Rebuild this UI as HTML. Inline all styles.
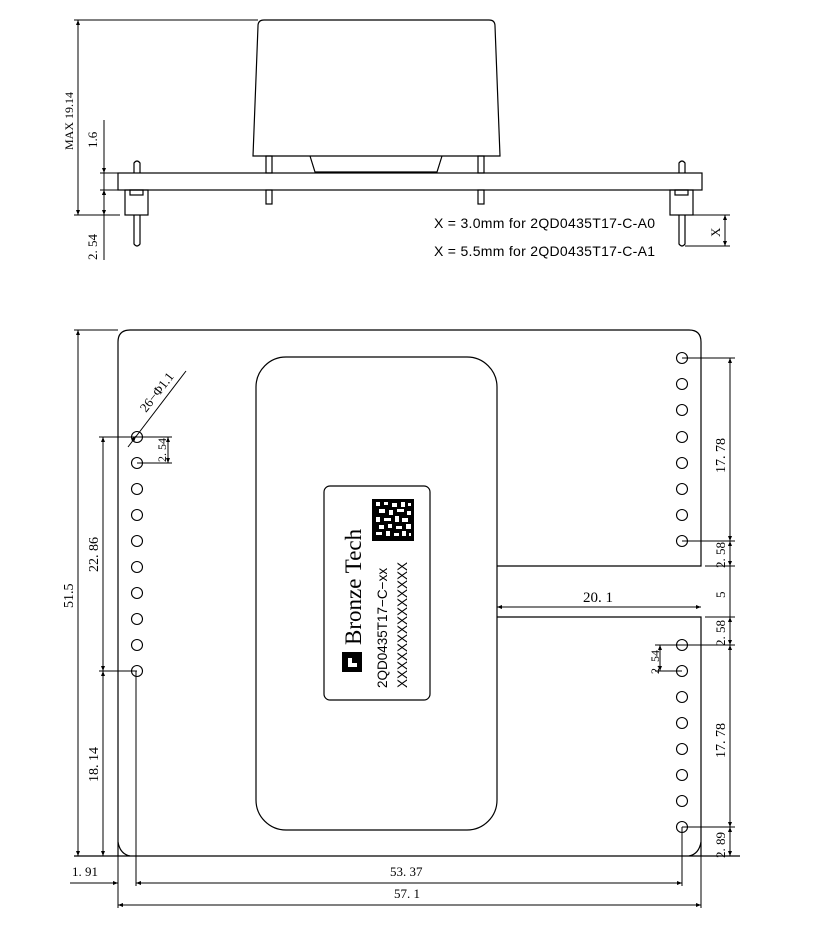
<!DOCTYPE html>
<html><head><meta charset="utf-8"><style>
html,body{margin:0;padding:0;background:#fff;}
svg{display:block;}
text{font-family:"Liberation Serif","Noto Serif CJK SC",serif;fill:#000;}
.s{font-family:"Liberation Sans","Noto Sans CJK SC",sans-serif;}
</style></head><body>
<svg width="813" height="926" viewBox="0 0 813 926" xmlns="http://www.w3.org/2000/svg">
<defs>
<marker id="a" viewBox="0 0 10 10" refX="10" refY="5" markerWidth="7" markerHeight="5" orient="auto-start-reverse" markerUnits="userSpaceOnUse"><path d="M0,1 L10,5 L0,9 z" fill="#000"/></marker>
</defs>
<g stroke="#000" stroke-width="1.2" fill="none">
<path d="M258,26 Q258,20 264,20 L489,20 Q495,20 495,26 L500,156 L253,156 Z"/>
<path d="M310,156 L315,172 L437,172 L442,156"/>
<rect x="118" y="173" width="584" height="17"/>
<rect x="266" y="156" width="6" height="17"/><rect x="266" y="190" width="6" height="14"/>
<rect x="478" y="156" width="6" height="17"/><rect x="478" y="190" width="6" height="14"/>
<path d="M134,173 L134,163 Q137,159 140,163 L140,173"/>
<rect x="125" y="190" width="23" height="25"/><rect x="130" y="190" width="13" height="5"/>
<path d="M134,215 L134,244 Q137,248 140,244 L140,215"/>
<path d="M679,173 L679,163 Q682,159 685,163 L685,173"/>
<rect x="670" y="190" width="23" height="25"/><rect x="675" y="190" width="13" height="5"/>
<path d="M679,215 L679,244 Q682,248 685,244 L685,215"/>
<line x1="74" y1="20" x2="258" y2="20" stroke-width="1"/>
<line x1="74" y1="215" x2="120" y2="215" stroke-width="1"/>
<line x1="78" y1="20" x2="78" y2="215" stroke-width="1" marker-start="url(#a)" marker-end="url(#a)"/>
<line x1="100" y1="173" x2="118" y2="173" stroke-width="1"/>
<line x1="100" y1="190" x2="118" y2="190" stroke-width="1"/>
<line x1="104" y1="120" x2="104" y2="260" stroke-width="1"/>
<line x1="104" y1="165" x2="104" y2="173" stroke-width="1" marker-end="url(#a)"/>
<line x1="104" y1="198" x2="104" y2="190" stroke-width="1" marker-end="url(#a)"/>
<line x1="104" y1="190" x2="104" y2="215" stroke-width="1" marker-start="url(#a)" marker-end="url(#a)"/>
<line x1="693" y1="215" x2="730" y2="215" stroke-width="1"/>
<line x1="685" y1="246" x2="730" y2="246" stroke-width="1"/>
<line x1="725" y1="215" x2="725" y2="246" stroke-width="1" marker-start="url(#a)" marker-end="url(#a)"/>

<path d="M118,856 L118,342 Q118,330 130,330 L689,330 Q701,330 701,342 L701,566 L497,566"/>
<path d="M497,617 L701,617 L701,856"/>
<path d="M118,842 Q120,854 130,856 M701,842 Q699,854 689,856"/>
<line x1="74" y1="856" x2="740" y2="856"/>
<rect x="256" y="357" width="241" height="473" rx="30"/>
<rect x="324" y="486" width="106" height="214" rx="6"/>
<g stroke-width="1.1">
<circle cx="137" cy="437" r="5.5"/><circle cx="137" cy="463" r="5.5"/><circle cx="137" cy="489" r="5.5"/><circle cx="137" cy="515" r="5.5"/><circle cx="137" cy="541" r="5.5"/><circle cx="137" cy="567" r="5.5"/><circle cx="137" cy="593" r="5.5"/><circle cx="137" cy="619" r="5.5"/><circle cx="137" cy="645" r="5.5"/><circle cx="137" cy="671" r="5.5"/>
<circle cx="682" cy="358" r="5.5"/><circle cx="682" cy="384" r="5.5"/><circle cx="682" cy="410" r="5.5"/><circle cx="682" cy="437" r="5.5"/><circle cx="682" cy="463" r="5.5"/><circle cx="682" cy="489" r="5.5"/><circle cx="682" cy="515" r="5.5"/><circle cx="682" cy="541" r="5.5"/>
<circle cx="682" cy="645" r="5.5"/><circle cx="682" cy="671" r="5.5"/><circle cx="682" cy="697" r="5.5"/><circle cx="682" cy="723" r="5.5"/><circle cx="682" cy="749" r="5.5"/><circle cx="682" cy="775" r="5.5"/><circle cx="682" cy="801" r="5.5"/><circle cx="682" cy="827" r="5.5"/>
</g>
<g stroke-width="1">
<line x1="74" y1="330" x2="118" y2="330"/>
<line x1="78" y1="330" x2="78" y2="856" marker-start="url(#a)" marker-end="url(#a)"/>
<line x1="99" y1="437" x2="172" y2="437"/>
<line x1="137" y1="463" x2="172" y2="463"/>
<line x1="99" y1="671" x2="137" y2="671"/>
<line x1="103" y1="437" x2="103" y2="671" marker-start="url(#a)" marker-end="url(#a)"/>
<line x1="103" y1="671" x2="103" y2="856" marker-start="url(#a)" marker-end="url(#a)"/>
<line x1="168" y1="437" x2="168" y2="463" marker-start="url(#a)" marker-end="url(#a)"/>
<line x1="128" y1="447" x2="186" y2="371"/>
<line x1="132" y1="441" x2="136" y2="436" marker-end="url(#a)"/>
<line x1="682" y1="358" x2="735" y2="358"/>
<line x1="682" y1="541" x2="735" y2="541"/>
<line x1="705" y1="566" x2="735" y2="566"/>
<line x1="705" y1="617" x2="735" y2="617"/>
<line x1="682" y1="645" x2="735" y2="645"/>
<line x1="682" y1="827" x2="735" y2="827"/>
<line x1="730" y1="358" x2="730" y2="541" marker-start="url(#a)" marker-end="url(#a)"/>
<line x1="730" y1="541" x2="730" y2="566" marker-start="url(#a)" marker-end="url(#a)"/>
<line x1="730" y1="566" x2="730" y2="617"/>
<line x1="730" y1="617" x2="730" y2="645" marker-start="url(#a)" marker-end="url(#a)"/>
<line x1="730" y1="645" x2="730" y2="827" marker-start="url(#a)" marker-end="url(#a)"/>
<line x1="730" y1="827" x2="730" y2="856" marker-start="url(#a)" marker-end="url(#a)"/>
<line x1="497" y1="607" x2="701" y2="607" marker-start="url(#a)" marker-end="url(#a)"/>
<line x1="655" y1="645" x2="682" y2="645"/>
<line x1="655" y1="671" x2="682" y2="671"/>
<line x1="660" y1="645" x2="660" y2="671" marker-start="url(#a)" marker-end="url(#a)"/>
<line x1="118" y1="856" x2="118" y2="908"/>
<line x1="136" y1="671" x2="136" y2="886"/>
<line x1="682" y1="827" x2="682" y2="886"/>
<line x1="701" y1="856" x2="701" y2="908"/>
<line x1="70" y1="883" x2="118" y2="883" marker-end="url(#a)"/>
<line x1="136" y1="883" x2="682" y2="883" marker-start="url(#a)" marker-end="url(#a)"/>
<line x1="118" y1="905" x2="701" y2="905" marker-start="url(#a)" marker-end="url(#a)"/>
</g>
</g>
<rect x="372" y="499" width="42" height="42" fill="#000"/>
<g fill="#fff">
<rect x="376" y="502" width="4" height="4"/><rect x="384" y="502" width="4" height="3"/><rect x="392" y="503" width="5" height="4"/><rect x="401" y="502" width="4" height="5"/><rect x="408" y="503" width="3" height="3"/>
<rect x="379" y="509" width="6" height="4"/><rect x="389" y="510" width="4" height="5"/><rect x="397" y="509" width="7" height="3"/><rect x="407" y="511" width="4" height="4"/>
<rect x="376" y="517" width="4" height="5"/><rect x="384" y="518" width="7" height="3"/><rect x="395" y="516" width="4" height="6"/><rect x="402" y="518" width="6" height="4"/>
<rect x="379" y="525" width="5" height="4"/><rect x="388" y="524" width="4" height="4"/><rect x="396" y="526" width="6" height="3"/><rect x="406" y="524" width="5" height="5"/>
<rect x="376" y="532" width="6" height="3"/><rect x="386" y="531" width="4" height="5"/><rect x="394" y="533" width="5" height="3"/><rect x="402" y="531" width="4" height="5"/><rect x="409" y="533" width="2" height="3"/>
</g>
<rect x="342" y="652" width="20" height="20" fill="#000"/>
<path d="M348,658 L352,658 L352,663 L357,663 L357,667 L348,667 Z" fill="#fff"/>
<text transform="translate(361,645) rotate(-90)" font-size="23">Bronze Tech</text>
<text class="s" transform="translate(387,688) rotate(-90)" font-size="13.5">2QD0435T17−C−xx</text>
<text class="s" transform="translate(407,688) rotate(-90)" font-size="13.5">XXXXXXXXXXXXXX</text>
<text transform="translate(73,150) rotate(-90)" font-size="12" font-family="Liberation Mono">MAX 19.14</text>
<text transform="translate(97,148) rotate(-90)" font-size="13">1.6</text>
<text transform="translate(97,260) rotate(-90)" font-size="13">2. 54</text>
<text transform="translate(720,237) rotate(-90)" font-size="13">X</text>
<text class="s" x="434" y="228" font-size="14" textLength="221">X = 3.0mm for 2QD0435T17-C-A0</text>
<text class="s" x="434" y="256" font-size="14" textLength="221">X = 5.5mm for 2QD0435T17-C-A1</text>
<text transform="translate(73,608) rotate(-90)" font-size="14">51.5</text>
<text transform="translate(98,572) rotate(-90)" font-size="14">22. 86</text>
<text transform="translate(98,782) rotate(-90)" font-size="14">18. 14</text>
<text transform="translate(166,462) rotate(-90)" font-size="12">2. 54</text>
<text transform="translate(146,413) rotate(-52)" font-size="13">26−Φ1.1</text>
<text transform="translate(725,473) rotate(-90)" font-size="14">17. 78</text>
<text transform="translate(725,568) rotate(-90)" font-size="13">2. 58</text>
<text transform="translate(725,598) rotate(-90)" font-size="13">5</text>
<text transform="translate(725,646) rotate(-90)" font-size="13">2. 58</text>
<text transform="translate(725,758) rotate(-90)" font-size="14">17. 78</text>
<text transform="translate(725,858) rotate(-90)" font-size="13">2. 89</text>
<text transform="translate(659,674) rotate(-90)" font-size="12">2. 54</text>
<text x="583" y="602" font-size="15">20. 1</text>
<text x="72" y="876" font-size="13">1. 91</text>
<text x="390" y="876" font-size="13">53. 37</text>
<text x="394" y="898" font-size="13">57. 1</text>
</svg>
</body></html>
